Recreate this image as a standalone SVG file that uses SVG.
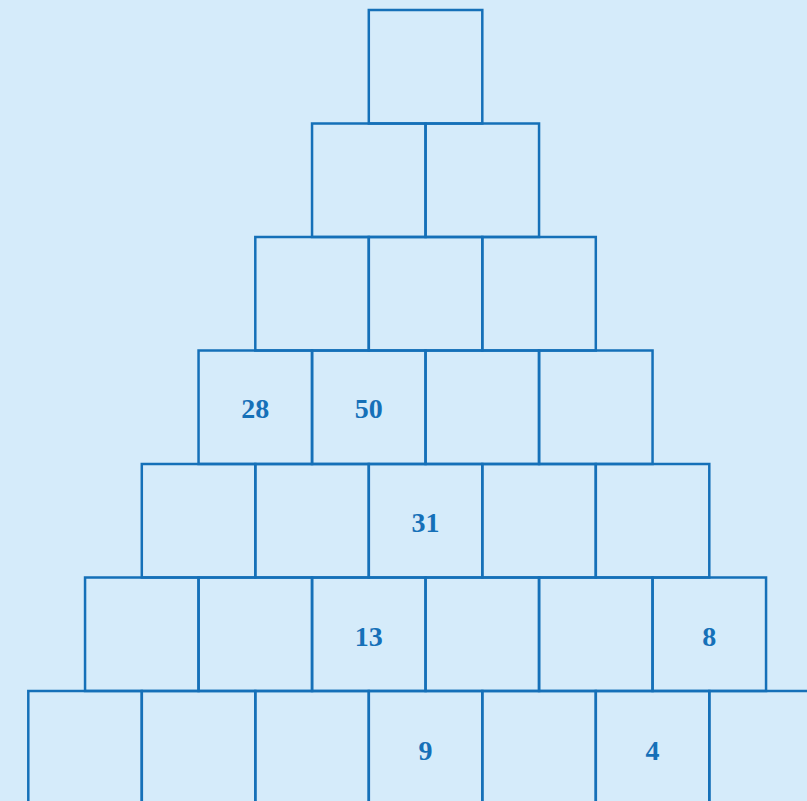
<svg xmlns="http://www.w3.org/2000/svg" width="807" height="801" viewBox="0 0 807 801">
<style>
.c{fill:none;stroke:#1570b8;stroke-width:2.5}
.t{font-family:"Liberation Serif",serif;font-weight:bold;font-size:28px;fill:#1570b8;text-anchor:middle;dominant-baseline:central}
</style>
<rect width="807" height="801" fill="#d5ebfa"/>
<g id="row1">
<rect class="c" x="368.8" y="10" width="113.5" height="113.5"/>
</g>
<g id="row2">
<rect class="c" x="312.05" y="123.5" width="113.5" height="113.5"/>
<rect class="c" x="425.55" y="123.5" width="113.5" height="113.5"/>
</g>
<g id="row3">
<rect class="c" x="255.3" y="237" width="113.5" height="113.5"/>
<rect class="c" x="368.8" y="237" width="113.5" height="113.5"/>
<rect class="c" x="482.3" y="237" width="113.5" height="113.5"/>
</g>
<g id="row4">
<rect class="c" x="198.55" y="350.5" width="113.5" height="113.5"/>
<rect class="c" x="312.05" y="350.5" width="113.5" height="113.5"/>
<rect class="c" x="425.55" y="350.5" width="113.5" height="113.5"/>
<rect class="c" x="539.05" y="350.5" width="113.5" height="113.5"/>
<text class="t" x="255.3" y="408.5">28</text>
<text class="t" x="368.8" y="408.5">50</text>
</g>
<g id="row5">
<rect class="c" x="141.8" y="464" width="113.5" height="113.5"/>
<rect class="c" x="255.3" y="464" width="113.5" height="113.5"/>
<rect class="c" x="368.8" y="464" width="113.5" height="113.5"/>
<rect class="c" x="482.3" y="464" width="113.5" height="113.5"/>
<rect class="c" x="595.8" y="464" width="113.5" height="113.5"/>
<text class="t" x="425.55" y="522">31</text>
</g>
<g id="row6">
<rect class="c" x="85.05" y="577.5" width="113.5" height="113.5"/>
<rect class="c" x="198.55" y="577.5" width="113.5" height="113.5"/>
<rect class="c" x="312.05" y="577.5" width="113.5" height="113.5"/>
<rect class="c" x="425.55" y="577.5" width="113.5" height="113.5"/>
<rect class="c" x="539.05" y="577.5" width="113.5" height="113.5"/>
<rect class="c" x="652.55" y="577.5" width="113.5" height="113.5"/>
<text class="t" x="368.8" y="636">13</text>
<text class="t" x="709.3" y="636">8</text>
</g>
<g id="row7">
<rect class="c" x="28.3" y="691" width="113.5" height="113.5"/>
<rect class="c" x="141.8" y="691" width="113.5" height="113.5"/>
<rect class="c" x="255.3" y="691" width="113.5" height="113.5"/>
<rect class="c" x="368.8" y="691" width="113.5" height="113.5"/>
<rect class="c" x="482.3" y="691" width="113.5" height="113.5"/>
<rect class="c" x="595.8" y="691" width="113.5" height="113.5"/>
<rect class="c" x="709.3" y="691" width="113.5" height="113.5"/>
<text class="t" x="425.55" y="750">9</text>
<text class="t" x="652.55" y="750">4</text>
</g>
<g id="connectors"/>
</svg>
